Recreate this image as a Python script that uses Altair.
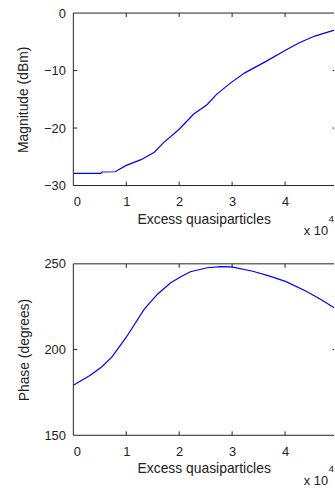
import altair as alt
import pandas as pd

# Magnitude vs excess quasiparticles (x in units of 1e4)
mag_x = [0.0, 0.52, 0.54, 0.79, 1.0, 1.28, 1.53, 1.71, 2.0, 2.27, 2.53, 2.71,
         2.98, 3.24, 3.64, 4.0, 4.26, 4.56, 4.9, 5.0]
mag_y = [-27.9, -27.9, -27.65, -27.6, -26.5, -25.5, -24.2, -22.5, -20.2, -17.6,
         -15.9, -14.1, -12.1, -10.4, -8.4, -6.5, -5.2, -4.0, -3.05, -2.9]

# Phase vs excess quasiparticles
ph_x = [0.0, 0.32, 0.54, 0.73, 1.0, 1.34, 1.59, 1.84, 2.03, 2.21, 2.53, 2.78,
        2.99, 3.39, 3.71, 4.02, 4.39, 4.67, 4.92, 5.0]
ph_y = [179.2, 185.0, 190.0, 195.7, 207.2, 223.6, 232.3, 239.0, 242.5, 245.4,
        247.7, 248.4, 248.2, 245.7, 242.8, 239.6, 234.2, 229.4, 224.6, 223.5]

x_ticks = [0, 1, 2, 3, 4]
mag_ticks = [-30, -20, -10, 0]
ph_ticks = [150, 200, 250]
x_title = "Excess quasiparticles"
y_titles = ["Magnitude (dBm)", "Phase (degrees)"]
exp_base = ["x 10"]
exp_power = ["4"]

FULL_W = 267          # full axis length (0..5) in px; the window crops it
W = 263               # visible part of the plot area
XMAX = 5 * W / FULL_W
H1 = 174
H2 = 173
TICK = 4
INK = "#222222"
FONT = "Liberation Sans"


def panel(xs, ys, domain, yticks, ytitle, H):
    df = pd.DataFrame({"x": xs, "y": ys})
    xscale = alt.Scale(domain=[0, XMAX], nice=False, zero=False)
    yscale = alt.Scale(domain=domain, nice=False, zero=False)
    line = alt.Chart(df).mark_line(color="#0000ff", strokeWidth=1.2, clip=True).encode(
        x=alt.X("x:Q", scale=xscale,
                axis=alt.Axis(values=x_ticks, format="d", title=x_title,
                              labelPadding=10, titlePadding=4)),
        y=alt.Y("y:Q", scale=yscale,
                axis=alt.Axis(values=yticks, format="d", title=ytitle,
                              labelPadding=8, titlePadding=13)),
    )
    xt = pd.DataFrame({"t": x_ticks[1:]})
    yt = pd.DataFrame({"t": yticks[1:-1]})
    frame = alt.Chart(pd.DataFrame({"k": [0]}))
    top_b = frame.mark_rule(color=INK, strokeWidth=1).encode(
        x=alt.value(0), x2=alt.value(W), y=alt.value(0))
    bot_b = frame.mark_rule(color=INK, strokeWidth=1).encode(
        x=alt.value(0), x2=alt.value(W), y=alt.value(H))
    left_b = frame.mark_rule(color=INK, strokeWidth=1).encode(
        x=alt.value(0), y=alt.value(0), y2=alt.value(H))
    top_t = alt.Chart(xt).mark_rule(color=INK, strokeWidth=1).encode(
        x=alt.X("t:Q", scale=xscale), y=alt.value(0), y2=alt.value(TICK))
    bot_t = alt.Chart(xt).mark_rule(color=INK, strokeWidth=1).encode(
        x=alt.X("t:Q", scale=xscale), y=alt.value(H - TICK), y2=alt.value(H))
    left_t = alt.Chart(yt).mark_rule(color=INK, strokeWidth=1).encode(
        y=alt.Y("t:Q", scale=yscale), x=alt.value(0), x2=alt.value(TICK))
    right_t = alt.Chart(yt).mark_rule(color=INK, strokeWidth=1).encode(
        y=alt.Y("t:Q", scale=yscale), x=alt.value(W - 1.5), x2=alt.value(W))
    base = alt.Chart(pd.DataFrame({"s": exp_base})).mark_text(
        align="right", baseline="middle", font=FONT, fontSize=13, color=INK
    ).encode(text="s:N", x=alt.value(257), y=alt.value(H + 46))
    power = alt.Chart(pd.DataFrame({"s": exp_power})).mark_text(
        align="right", baseline="middle", font=FONT, fontSize=10, color=INK
    ).encode(text="s:N", x=alt.value(W), y=alt.value(H + 34))
    return alt.layer(line, top_b, bot_b, left_b, top_t, bot_t, left_t, right_t,
                     base, power).properties(width=W, height=H)


top = panel(mag_x, mag_y, [-30, 0], mag_ticks, y_titles[0], H1)
bottom = panel(ph_x, ph_y, [150, 250], ph_ticks, y_titles[1], H2)

chart = alt.vconcat(top, bottom, spacing=79, bounds="flush").properties(
    padding={"left": 16, "top": 5, "right": 0, "bottom": 0},
    background="white",
).configure_view(
    stroke="transparent", strokeWidth=0
).configure_axis(
    grid=False, ticks=False, domain=False,
    labelFont=FONT, labelFontSize=13, labelColor=INK,
    titleFont=FONT, titleFontSize=14, titleFontWeight="normal", titleColor=INK,
)

chart.save("out.html", embed_options={"renderer": "svg", "actions": False})
